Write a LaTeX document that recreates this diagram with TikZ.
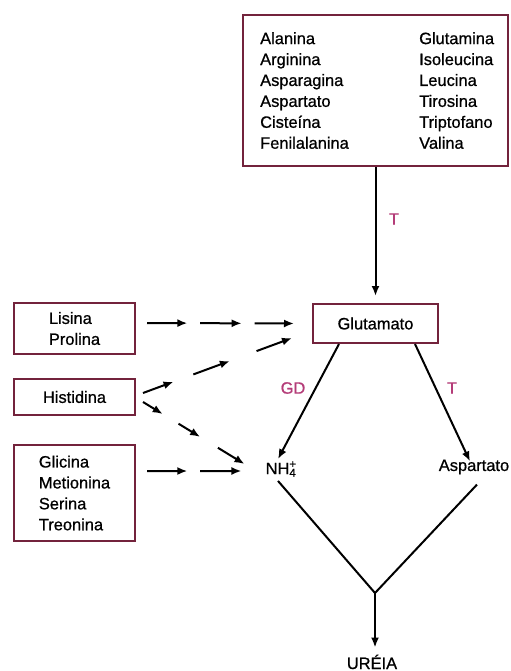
\documentclass[tikz,border=0pt]{standalone}
\usepackage{fontspec}
\setmainfont{Liberation Sans}[BoldFont={Liberation Sans},BoldFeatures={FakeBold=0.8}]
\usetikzlibrary{arrows.meta,calc}
\definecolor{boxred}{RGB}{115,35,60}
\definecolor{enzpink}{RGB}{180,60,120}
\tikzset{
    box/.style={draw=boxred,line width=2bp,inner sep=0pt,align=left},
    col/.style={anchor=north west,inner sep=0pt,align=left},
    enz/.style={text=enzpink,inner sep=0pt},
    arrow/.style={-{Latex[length=10bp,width=8bp]},line width=2bp},
    link/.style={line width=2bp}
}

\begin{document}
\begin{tikzpicture}[x=1bp,y=-1bp,font=\fontsize{16.5}{21}\selectfont\bfseries]
    \useasboundingbox (0,0) rectangle (511,671);
    % boxes
    \node[box,minimum width=265bp,minimum height=151bp] (aas) at (375.5,90.5) {};
    \node[col] (colA) at (260,32) {Alanina\\Arginina\\Asparagina\\Aspartato\\Cisteína\\Fenilalanina};
    \node[col] (colB) at (419,32) {Glutamina\\Isoleucina\\Leucina\\Tirosina\\Triptofano\\Valina};
    \node[box,minimum width=125bp,minimum height=39bp] (glu) at (375.5,323.5) {Glutamato};
    \node[box,minimum width=121bp,minimum height=51bp] (lis) at (74.5,328.5) {Lisina\\Prolina};
    \node[box,minimum width=121bp,minimum height=36bp] (his) at (74.5,397) {Histidina};
    \node[box,minimum width=121bp,minimum height=96bp] (gly) at (74.5,493) {Glicina\\Metionina\\Serina\\Treonina};
    \node[inner sep=2bp] (nh) at (281,469) {NH\rlap{\textsuperscript{+}}\textsubscript{4}};
    \node[inner sep=2bp] (asp) at (474,467) {Aspartato};
    \coordinate (jn) at (375,593);
    \node[anchor=base,inner sep=0pt] (ure) at (372,669) {URÉIA};
    % transaminations and deamination
    \draw[arrow,shorten >=7bp] (aas.south) -- (glu.north);
    \node[enz] (t1) at (394,219) {T};
    \draw[arrow] ($(glu.south west)+(27,0)$) -- ($(nh.north)+(-3,0)$);
    \node[enz] (gd) at (293,388) {GD};
    \draw[arrow] ($(glu.south east)+(-24,0)$) -- ($(asp.north)+(-4,4)$);
    \node[enz] (t2) at (452,388) {T};
    \draw[link] ($(nh.south)+(-3,2)$) -- (jn) -- ($(asp.south)+(3,8)$);
    \draw[arrow,shorten >=7bp] (jn) -- (jn |- ure.north);
    % broken arrows
    \coordinate (l0) at ($(lis.east)+(11,-5.5)$);
    \coordinate (l1) at ($(glu.west)+(-18,0)$);
    \foreach \s/\e in {0/0.275,0.362/0.644,0.732/1}
        \draw[arrow] ($(l0)!\s!(l1)$) -- ($(l0)!\e!(l1)$);
    \coordinate (h0) at ($(his.east)+(7,-4)$);
    \coordinate (h1) at ($(glu.south west)+(-20,-6)$);
    \foreach \s/\e in {0/0.205,0.338/0.583,0.762/1}
        \draw[arrow] ($(h0)!\s!(h1)$) -- ($(h0)!\e!(h1)$);
    \coordinate (d0) at ($(his.east)+(7,5)$);
    \coordinate (d1) at ($(nh.west)+(-19,-5)$);
    \foreach \s/\e in {0/0.194,0.35/0.563,0.738/1}
        \draw[arrow] ($(d0)!\s!(d1)$) -- ($(d0)!\e!(d1)$);
    \coordinate (g0) at ($(gly.east)+(11,-22)$);
    \coordinate (g1) at ($(nh.west)+(-22,2)$);
    \foreach \s/\e in {0/0.427,0.563/1}
        \draw[arrow] ($(g0)!\s!(g1)$) -- ($(g0)!\e!(g1)$);
\end{tikzpicture}
\end{document}
